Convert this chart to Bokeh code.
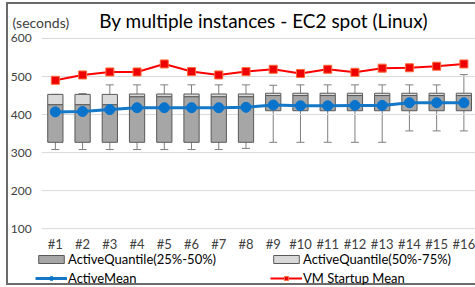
from bokeh.plotting import figure
from bokeh.layouts import column
from bokeh.models import (ColumnDataSource, Legend, LegendItem, Whisker, TeeHead,
                          Label, FixedTicker, Range1d)
from bokeh.embed import file_html
from bokeh.resources import INLINE

# ---- data ----
instances = ["#1", "#2", "#3", "#4", "#5", "#6", "#7", "#8",
             "#9", "#10", "#11", "#12", "#13", "#14", "#15", "#16"]
q1 = [327, 327, 327, 327, 327, 327, 327, 327,
      410, 410, 410, 410, 410, 410, 410, 410]
median = [426, 426, 426, 447, 447, 447, 447, 447,
          450, 450, 450, 450, 450, 450, 450, 450]
q3 = [453, 453, 453, 454, 454, 454, 454, 454,
      456, 456, 456, 456, 456, 456, 456, 456]
active_min = [308, 308, 308, 308, 308, 308, 308, 311,
              327, 327, 327, 327, 327, 357, 357, 357]
active_max = [453, 455, 478, 478, 478, 478, 478, 478,
              477, 478, 478, 478, 478, 478, 478, 505]
active_mean = [407, 408, 413, 418, 418, 418, 418, 419,
               425, 423, 423, 424, 424, 431, 431, 431]
vm_startup_mean = [490, 504, 512, 512, 533, 513, 504, 513,
                   519, 508, 519, 511, 522, 523, 527, 533]
y_ticks = [100, 200, 300, 400, 500, 600]
title_text = "By multiple instances - EC2 spot (Linux)"
unit_text = "(seconds)"
legend_labels = ["ActiveQuantile(25%-50%)", "ActiveQuantile(50%-75%)",
                 "ActiveMean", "VM Startup Mean"]

FONT = "Lato"
FRAME_LINE = "2px solid #6b6b6b"
DARK_BAR, LIGHT_BAR, BAR_EDGE = "#a6a6a6", "#d9d9d9", "#595959"
BLUE, BLUE_M, RED, RED_M, RED_E = "#1478c8", "#0a74cc", "#ff0000", "#ee0000", "#ff6a3a"
GRID = "#d9d9d9"

n = len(instances)
xs = list(range(1, n + 1))
src = ColumnDataSource(dict(x=xs, q1=q1, med=median, q3=q3, lo=active_min,
                            hi=active_max, mean=active_mean, vm=vm_startup_mean))

# One frame covers the whole chart area; the axes are pinned inside it.
x_lo, x_hi = 0.5, n + 0.5          # category area
p = figure(width=469, height=283, output_backend="svg", toolbar_location=None,
           x_range=Range1d(-0.72, 16.5), y_range=Range1d(-54.7, 689.3),
           min_border=0, min_border_left=0, min_border_right=0,
           min_border_top=0, min_border_bottom=0,
           styles={"border-left": FRAME_LINE, "border-top": FRAME_LINE,
                   "border-bottom": FRAME_LINE})
p.outline_line_color = None
p.background_fill_color = "white"
p.border_fill_color = "white"
p.grid.visible = False

# horizontal gridlines across the category area
p.segment(x0=[x_lo] * len(y_ticks), x1=[x_hi] * len(y_ticks), y0=y_ticks, y1=y_ticks,
          line_color=GRID, line_width=1)

for ax in (p.xaxis[0], p.yaxis[0]):
    ax.axis_line_color = None
    ax.major_tick_line_color = None
    ax.minor_tick_line_color = None
    ax.major_tick_out = 0
    ax.major_tick_in = 0
    ax.minor_tick_out = 0
    ax.minor_tick_in = 0
    ax.major_label_text_font = FONT
    ax.major_label_text_color = "#404040"

# y axis pinned at the left edge of the category area
p.yaxis.fixed_location = x_lo
p.yaxis.ticker = FixedTicker(ticks=y_ticks)
p.yaxis.major_label_text_font_size = "12px"
p.yaxis.major_label_standoff = 10

# x axis pinned at the bottom value (100)
p.xaxis.fixed_location = y_ticks[0]
p.xaxis.ticker = FixedTicker(ticks=xs)
p.xaxis.major_label_overrides = {x: lab for x, lab in zip(xs, instances)}
p.xaxis.major_label_text_font_size = "13px"
p.xaxis.major_label_standoff = 7

# whiskers
wc = "#7f7f7f"
p.add_layout(Whisker(source=src, base="x", lower="lo", upper="q1", dimension="height",
                     line_color=wc, line_width=1, upper_head=None,
                     lower_head=TeeHead(size=8, line_color=wc, line_width=1)))
p.add_layout(Whisker(source=src, base="x", lower="q3", upper="hi", dimension="height",
                     line_color=wc, line_width=1, lower_head=None,
                     upper_head=TeeHead(size=8, line_color=wc, line_width=1)))

# quantile boxes
b1 = p.vbar(x="x", width=0.56, bottom="q1", top="med", source=src,
            fill_color=DARK_BAR, line_color=BAR_EDGE, line_width=1)
b2 = p.vbar(x="x", width=0.56, bottom="med", top="q3", source=src,
            fill_color=LIGHT_BAR, line_color=BAR_EDGE, line_width=1)

# mean lines
l1 = p.line(x="x", y="mean", source=src, line_color=BLUE, line_width=3)
m1 = p.scatter(x="x", y="mean", source=src, marker="circle", size=10,
               fill_color=BLUE_M, line_color=BLUE_M)
l2 = p.line(x="x", y="vm", source=src, line_color=RED, line_width=2)
m2 = p.scatter(x="x", y="vm", source=src, marker="square", size=8,
               fill_color=RED_M, line_color=RED_E)

# title and unit
p.add_layout(Label(x=(x_lo + x_hi) / 2 + 0.15, y=647, text=title_text,
                   text_font=FONT, text_font_size="19px", text_color="#000000",
                   text_align="center", text_baseline="middle"))
p.add_layout(Label(x=-0.57, y=641, text=unit_text,
                   text_font=FONT, text_font_size="14px", text_color="#404040",
                   text_align="left", text_baseline="middle"))

legend = Legend(items=[
    LegendItem(label=legend_labels[0], renderers=[b1]),
    LegendItem(label=legend_labels[1], renderers=[b2]),
    LegendItem(label=legend_labels[2], renderers=[l1, m1]),
    LegendItem(label=legend_labels[3], renderers=[l2, m2]),
], orientation="horizontal", ncols=2, location=(27, 1),
    border_line_color=None, background_fill_alpha=0, padding=0, margin=0,
    spacing=3, glyph_width=32, glyph_height=10, label_height=16,
    label_width=199, label_standoff=1, label_text_font=FONT,
    label_text_font_size="13px", label_text_color="#000000")
p.add_layout(legend)

layout = column(p, spacing=0, margin=(2, 0, 0, 6))
open("out.html", "w").write(file_html(layout, INLINE))
